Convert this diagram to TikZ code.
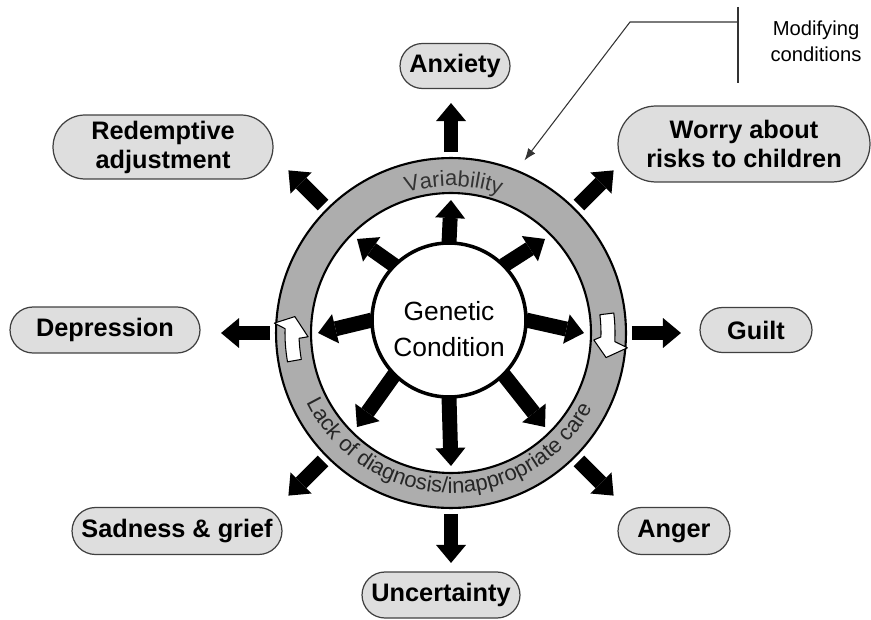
\documentclass[tikz,border=0pt]{standalone}
\usepackage{fontspec}
\setmainfont{Liberation Sans}
\usepackage{tikz}
\usetikzlibrary{shapes.misc, arrows.meta, decorations.text}
\tikzstyle{enode} = [rounded rectangle, draw=black!75, fill=black!13, line width=0.7pt, inner sep=0pt, align=center, font=\bfseries\fontsize{14.4}{16.5}\selectfont]
\tikzstyle{ghost} = [circle, inner sep=0pt, outer sep=0pt]
\tikzstyle{ringnode} = [circle, draw, line width=1.2pt, inner sep=0pt, outer sep=0pt]
\tikzstyle{barrow} = [draw, line width=8.5pt, -{Triangle[width=0.6cm, length=0.36cm, line width=0pt]}]
\tikzstyle{line} = [draw, black!80, line width=0.6pt]
\tikzstyle{warrow} = [fill=white, draw=black, line width=0.6pt, line join=round]

\begin{document}
\begin{tikzpicture}[x=0.02cm, y=0.02cm]
				\useasboundingbox (0,0) rectangle (871,619);
				\coordinate (C) at (451,286);

				% ring and centre
				\node [ringnode, fill=black!32, minimum size=7cm] (ringout) at (C) {};
				\node [ringnode, fill=white, minimum size=5.6cm] (ringin) at (C) {};
				\node [circle, draw, line width=2pt, inner sep=0pt, outer sep=0pt, minimum size=3.08cm] (gc) at (449,299) {};
				\node [align=center, font=\fontsize{15}{20.8}\selectfont] (gclab) at (449,290) {Genetic\\Condition};

				\node [ghost, minimum size=5.32cm] (itip) at (C) {};
				\node [ghost, minimum size=7.24cm] (obase) at (C) {};
				\node [ghost, minimum size=9.2cm] (otip) at (C) {};

				% texts on the ring
				\path [decorate, decoration={text along path, text align=center, text color=black!80,
					text={|\fontsize{12.5}{14}\selectfont|Variability}}]
					([shift={(110:147)}]C) arc [start angle=110, end angle=68, radius=2.94cm];
				\path [decorate, decoration={text along path, text align=center, text color=black!85,
					text={|\fontsize{12.5}{15}\selectfont|Lack of diagnosis/inappropriate care}}]
					([shift={(199:160)}]C) arc [start angle=199, end angle=339, radius=3.2cm];

				% white turning arrows
				\path [warrow] ([shift={(190:152)}]C) arc [start angle=190, end angle=182, radius=3.04cm]
					-- ([shift={(181.5:143)}]C) -- ([shift={(174:157)}]C) -- ([shift={(176.8:177)}]C)
					-- ([shift={(178.5:166)}]C) arc [start angle=178.5, end angle=190, radius=3.32cm] -- cycle;
				\path [warrow] ([shift={(7:150)}]C) arc [start angle=7, end angle=-1.5, radius=3cm]
					-- ([shift={(-2.8:143)}]C) -- ([shift={(-9:157)}]C) -- ([shift={(-4.8:177)}]C)
					-- ([shift={(-3:164)}]C) arc [start angle=-3, end angle=7, radius=3.28cm] -- cycle;

				% outcomes
				\node [enode, minimum width=2.2cm, minimum height=0.9cm] (anx) at (455,553) {Anxiety};
				\node [enode, minimum width=4.4cm, minimum height=1.28cm] (red) at (163,472) {Redemptive\\adjustment};
				\node [enode, minimum width=5.04cm, minimum height=1.52cm] (wor) at (744,475) {Worry about\\risks to children};
				\node [enode, minimum width=3.8cm, minimum height=0.92cm] (dep) at (105,289) {Depression};
				\node [enode, minimum width=2.24cm, minimum height=0.9cm] (gui) at (756,289) {Guilt};
				\node [enode, minimum width=4.2cm, minimum height=0.94cm] (sad) at (177,88) {Sadness \& grief};
				\node [enode, minimum width=2.24cm, minimum height=0.94cm] (ang) at (674,88) {Anger};
				\node [enode, minimum width=3.16cm, minimum height=0.92cm] (unc) at (441,24) {Uncertainty};

				% inner arrows
				\path [barrow] (gc.90) -- (itip.90);
				\path [barrow] (gc.45) -- (itip.45);
				\path [barrow] (gc.0) -- (itip.0);
				\path [barrow] (gc.-45) -- (itip.-45);
				\path [barrow] (gc.-90) -- (itip.-90);
				\path [barrow] (gc.-135) -- (itip.-135);
				\path [barrow] (gc.180) -- (itip.180);
				\path [barrow] (gc.135) -- (itip.135);

				% outer arrows
				\path [barrow] (obase.90) -- (otip.90);
				\path [barrow] (obase.45) -- (otip.45);
				\path [barrow] (obase.0) -- (otip.0);
				\path [barrow] (obase.-45) -- (otip.-45);
				\path [barrow] (obase.-90) -- (otip.-90);
				\path [barrow] (obase.-135) -- (otip.-135);
				\path [barrow] (obase.180) -- (otip.180);
				\path [barrow] (obase.135) -- (otip.135);

				% modifying conditions
				\node [align=center, font=\fontsize{11.5}{15}\selectfont] (mod) at (816,578) {Modifying\\conditions};
				\coordinate (brtop) at (738,612);
				\coordinate (brbot) at (738,536);
				\coordinate (brmid) at (738,597);
				\coordinate (kink) at (630,597);
				\path [line] (brtop) -- (brbot);
				\path [line, shorten >=0.26cm, -{Latex[length=0.24cm, width=0.18cm]}] (brmid) -- (kink) -- (ringout.68);
			\end{tikzpicture}
\end{document}
